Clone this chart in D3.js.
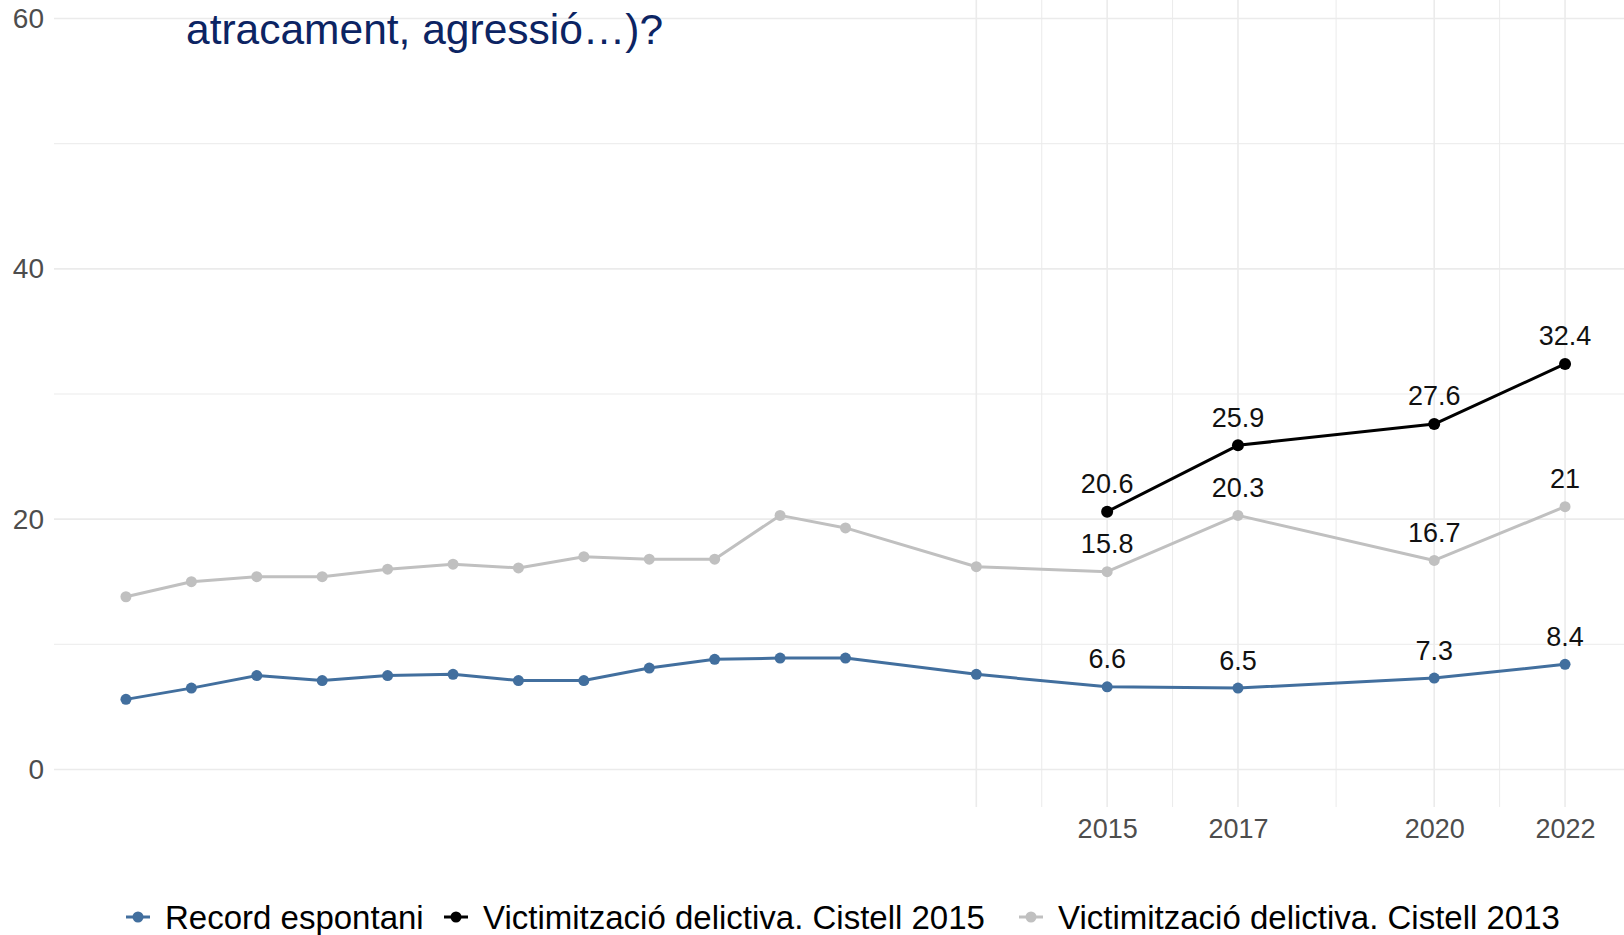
<!DOCTYPE html>
<html>
<head>
<meta charset="utf-8">
<script src="https://cdn.jsdelivr.net/npm/d3@7"></script>
<style>
  body { margin: 0; background: #fff; }
  svg text { font-family: "Liberation Sans", Arial, sans-serif; }
</style>
</head>
<body>
<svg id="chart" width="1624" height="935"></svg>
<script>
// data
var years = [2000, 2001, 2002, 2003, 2004, 2005, 2006, 2007, 2008, 2009, 2010, 2011, 2013, 2015, 2017, 2020, 2022];
var recordEspontani = [5.6, 6.5, 7.5, 7.1, 7.5, 7.6, 7.1, 7.1, 8.1, 8.8, 8.9, 8.9, 7.6, 6.6, 6.5, 7.3, 8.4];
var cistell2013 = [13.8, 15.0, 15.4, 15.4, 16.0, 16.4, 16.1, 17.0, 16.8, 16.8, 20.3, 19.3, 16.2, 15.8, 20.3, 16.7, 21];
var cistell2015Years = [2015, 2017, 2020, 2022];
var cistell2015 = [20.6, 25.9, 27.6, 32.4];
var labelYears = [2015, 2017, 2020, 2022];
var xBreaks = [2013, 2015, 2017, 2020, 2022];
var xMinor = [2014, 2016, 2018.5, 2021];
var xTickLabels = [2015, 2017, 2020, 2022];
var yBreaks = [0, 20, 40, 60];
var yMinor = [10, 30, 50];
var seriesNames = ["Record espontani", "Victimització delictiva. Cistell 2015", "Victimització delictiva. Cistell 2013"];
var titleLines = ["atracament, agressió…)?"];

var colors = ["#426f9e", "#000000", "#c0c0c0"];

var svg = d3.select("#chart");
var x = d3.scaleLinear().domain([1998.9, 2023.1]).range([54, 1637]);
var y = d3.scaleLinear().domain([-3, 63]).range([807, -19]);

var panelTop = 0, panelBottom = 807;

// grid
var grid = svg.append("g");
grid.selectAll(".hminor").data(yMinor).enter().append("line")
    .attr("x1", 54).attr("x2", 1624)
    .attr("y1", function(d) { return y(d); }).attr("y2", function(d) { return y(d); })
    .attr("stroke", "#ebebeb").attr("stroke-width", 1);
grid.selectAll(".hmajor").data(yBreaks).enter().append("line")
    .attr("x1", 54).attr("x2", 1624)
    .attr("y1", function(d) { return y(d); }).attr("y2", function(d) { return y(d); })
    .attr("stroke", "#ebebeb").attr("stroke-width", 1.6);
grid.selectAll(".vminor").data(xMinor).enter().append("line")
    .attr("y1", panelTop).attr("y2", panelBottom)
    .attr("x1", function(d) { return x(d); }).attr("x2", function(d) { return x(d); })
    .attr("stroke", "#ebebeb").attr("stroke-width", 1);
grid.selectAll(".vmajor").data(xBreaks).enter().append("line")
    .attr("y1", panelTop).attr("y2", panelBottom)
    .attr("x1", function(d) { return x(d); }).attr("x2", function(d) { return x(d); })
    .attr("stroke", "#ebebeb").attr("stroke-width", 1.6);

// axes
var yAxis = d3.axisLeft(y).tickValues(yBreaks).tickSize(0).tickPadding(0);
svg.append("g")
    .attr("transform", "translate(44,0)")
    .call(yAxis)
    .call(function(g) { g.select(".domain").remove(); })
    .selectAll("text")
    .attr("font-size", 28).attr("fill", "#4d4d4d")
    .attr("font-family", "Liberation Sans, Arial, sans-serif");

var xAxis = d3.axisBottom(x).tickValues(xTickLabels).tickSize(0).tickPadding(0).tickFormat(d3.format("d"));
svg.append("g")
    .attr("transform", "translate(0,819)")
    .call(xAxis)
    .call(function(g) { g.select(".domain").remove(); })
    .selectAll("text")
    .attr("font-size", 27).attr("fill", "#4d4d4d")
    .attr("font-family", "Liberation Sans, Arial, sans-serif");

// series
var series = [
    {name: seriesNames[0], xs: years, ys: recordEspontani, color: colors[0], r: 5.5},
    {name: seriesNames[2], xs: years, ys: cistell2013, color: colors[2], r: 5.5},
    {name: seriesNames[1], xs: cistell2015Years, ys: cistell2015, color: colors[1], r: 6}
];

var line = d3.line()
    .x(function(d) { return x(d[0]); })
    .y(function(d) { return y(d[1]); });

series.forEach(function(s) {
    var pts = s.xs.map(function(v, i) { return [v, s.ys[i]]; });
    svg.append("path")
        .datum(pts)
        .attr("d", line)
        .attr("fill", "none")
        .attr("stroke", s.color)
        .attr("stroke-width", 3)
        .attr("stroke-linejoin", "round");
    svg.selectAll(null)
        .data(pts)
        .enter().append("circle")
        .attr("cx", function(d) { return x(d[0]); })
        .attr("cy", function(d) { return y(d[1]); })
        .attr("r", s.r)
        .attr("fill", s.color);
    svg.selectAll(null)
        .data(pts.filter(function(d) { return labelYears.indexOf(d[0]) >= 0; }))
        .enter().append("text")
        .attr("x", function(d) { return x(d[0]); })
        .attr("y", function(d) { return y(d[1]) - 28; })
        .attr("dy", "0.35em")
        .attr("text-anchor", "middle")
        .attr("font-size", 27)
        .attr("fill", "#111")
        .text(function(d) { return d[1]; });
});

// title (top part cut off in the original)
svg.selectAll(".title").data(titleLines).enter().append("text")
    .attr("x", 186)
    .attr("y", 44)
    .attr("font-size", 42.5)
    .attr("fill", "#0c2463")
    .text(function(d) { return d; });

// legend
var legendX = [138, 456, 1031];
var legend = svg.append("g").attr("transform", "translate(0,917)");
[0, 1, 2].forEach(function(i) {
    var g = legend.append("g").attr("transform", "translate(" + legendX[i] + ",0)");
    g.append("line").attr("x1", -12).attr("x2", 12).attr("y1", 0).attr("y2", 0)
        .attr("stroke", colors[i]).attr("stroke-width", 3);
    g.append("circle").attr("r", 5.5).attr("fill", colors[i]);
    g.append("text").attr("x", 27).attr("dy", "0.35em")
        .attr("font-size", 33).attr("fill", "#000")
        .text(seriesNames[i]);
});
</script>
</body>
</html>
